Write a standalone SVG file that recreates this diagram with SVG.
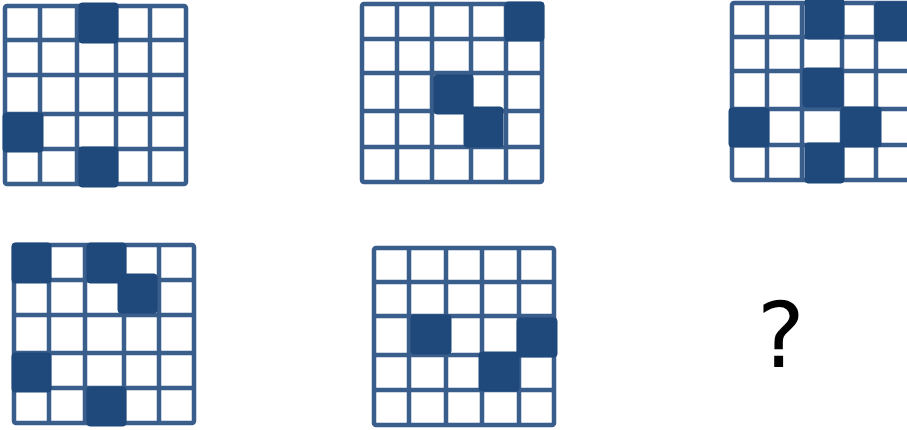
<svg xmlns="http://www.w3.org/2000/svg" width="907" height="430" viewBox="0 0 907 430">
<style>
.bg{fill:#ffffff}
.ln{fill:none;stroke:#3a5e8c;stroke-width:4.5;stroke-linejoin:round}
.dk{fill:#1f487b;stroke:#1f487b;stroke-width:1;}
.q{font-family:"DejaVu Sans",sans-serif;font-size:90px;fill:#000}
</style>
<rect width="907" height="430" fill="#fff"/>
<g id="grid1">
<rect class="ln" x="5" y="6" width="181" height="178" rx="2"/>
<path class="ln" d="M40 6V184M77 6V184M116 6V184M150 6V184M5 40H186M5 75H186M5 114H186M5 149H186"/>
<rect class="dk" x="79" y="3" width="39" height="40" rx="3"/>
<rect class="dk" x="3" y="113" width="40" height="39" rx="3"/>
<rect class="dk" x="79" y="147" width="39" height="40" rx="3"/>
</g>
<g id="grid2">
<rect class="ln" x="362" y="4" width="180" height="178" rx="2"/>
<path class="ln" d="M397 4V182M432 4V182M471 4V182M506 4V182M362 39H542M362 73H542M362 111H542M362 147H542"/>
<rect class="dk" x="505" y="2" width="39" height="39" rx="3"/>
<rect class="dk" x="434" y="75" width="39" height="39" rx="3"/>
<rect class="dk" x="464" y="107" width="39" height="40" rx="3"/>
</g>
<g id="grid3">
<rect class="ln" x="732" y="3" width="179" height="177" rx="2"/>
<path class="ln" d="M767 3V180M802 3V180M842 3V180M876 3V180M732 37H911M732 71H911M732 109H911M732 145H911"/>
<rect class="dk" x="805" y="-1" width="39" height="40" rx="3"/>
<rect class="dk" x="875" y="2" width="39" height="39" rx="3"/>
<rect class="dk" x="803" y="68" width="40" height="39" rx="3"/>
<rect class="dk" x="729" y="108" width="40" height="39" rx="3"/>
<rect class="dk" x="841" y="107" width="40" height="40" rx="3"/>
<rect class="dk" x="805" y="143" width="39" height="40" rx="3"/>
</g>
<g id="grid4">
<rect class="ln" x="14" y="245" width="180" height="178" rx="2"/>
<path class="ln" d="M49 245V423M85 245V423M124 245V423M159 245V423M14 280H194M14 315H194M14 353H194M14 388H194"/>
<rect class="dk" x="12" y="243" width="39" height="40" rx="3"/>
<rect class="dk" x="87" y="243" width="39" height="40" rx="3"/>
<rect class="dk" x="118" y="274" width="39" height="39" rx="3"/>
<rect class="dk" x="12" y="353" width="39" height="39" rx="3"/>
<rect class="dk" x="87" y="387" width="39" height="39" rx="3"/>
</g>
<g id="grid5">
<rect class="ln" x="374" y="248" width="180" height="177" rx="2"/>
<path class="ln" d="M409 248V425M446 248V425M482 248V425M519 248V425M374 282H554M374 316H554M374 355H554M374 390H554"/>
<rect class="dk" x="411" y="315" width="40" height="39" rx="3"/>
<rect class="dk" x="517" y="318" width="40" height="39" rx="3"/>
<rect class="dk" x="479" y="352" width="40" height="39" rx="3"/>
</g>
<g id="question">
<text class="q" x="781" y="367" text-anchor="middle">?</text>
</g>
</svg>
